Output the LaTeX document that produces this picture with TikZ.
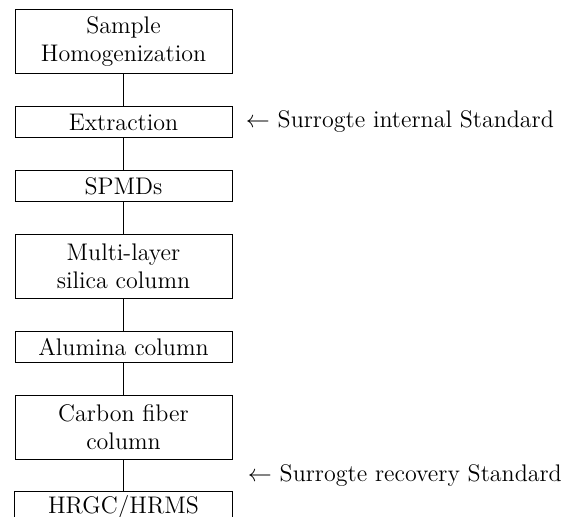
\documentclass[tikz,border=0pt]{standalone}
\usetikzlibrary{positioning,calc}
\tikzset{
  stage/.style={draw, line width=0.5pt, minimum width=108.5pt, minimum height=15.5pt,
    inner sep=0pt, align=center, font=\fontsize{12}{14}\selectfont},
  tall/.style={minimum height=32pt},
  note/.style={inner sep=0pt, font=\fontsize{12}{14}\selectfont},
}

\begin{document}
\begin{tikzpicture}[node distance=16pt]
    \useasboundingbox (0,0) rectangle (292pt,-258.5pt);
    % set up the nodes
    \node[stage, tall, anchor=north] (hom) at (61.75pt,-4.5pt) {Sample\\Homogenization};
    \node[stage, below=of hom] (ext) {Extraction};
    \node[stage, below=of ext] (spmd) {SPMDs};
    \node[stage, tall, below=of spmd] (silica) {Multi-layer\\silica column};
    \node[stage, below=of silica] (alu) {Alumina column};
    \node[stage, tall, below=of alu] (carb) {Carbon fiber\\column};
    \node[stage, draw=none, below=of carb] (hrgc) {HRGC/HRMS};
    % last box runs off the page, so no bottom side
    \draw[line width=0.5pt] (hrgc.south west) |- (hrgc.north east) -- (hrgc.south east);
    % standards added on the side
    \node[note, right=6.5pt of ext] (istd) {$\leftarrow$ Surrogte internal Standard};
    \coordinate (rmid) at ($(carb.south east)!.5!(hrgc.north east)$);
    \node[note, right=7.5pt of rmid] (rstd) {$\leftarrow$ Surrogte recovery Standard};
    % draw lines between them
    \draw[line width=0.5pt] (hom)--(ext);
    \draw[line width=0.5pt] (ext)--(spmd);
    \draw[line width=0.5pt] (spmd)--(silica);
    \draw[line width=0.5pt] (silica)--(alu);
    \draw[line width=0.5pt] (alu)--(carb);
    \draw[line width=0.5pt] (carb)--(hrgc);
\end{tikzpicture}
\end{document}
